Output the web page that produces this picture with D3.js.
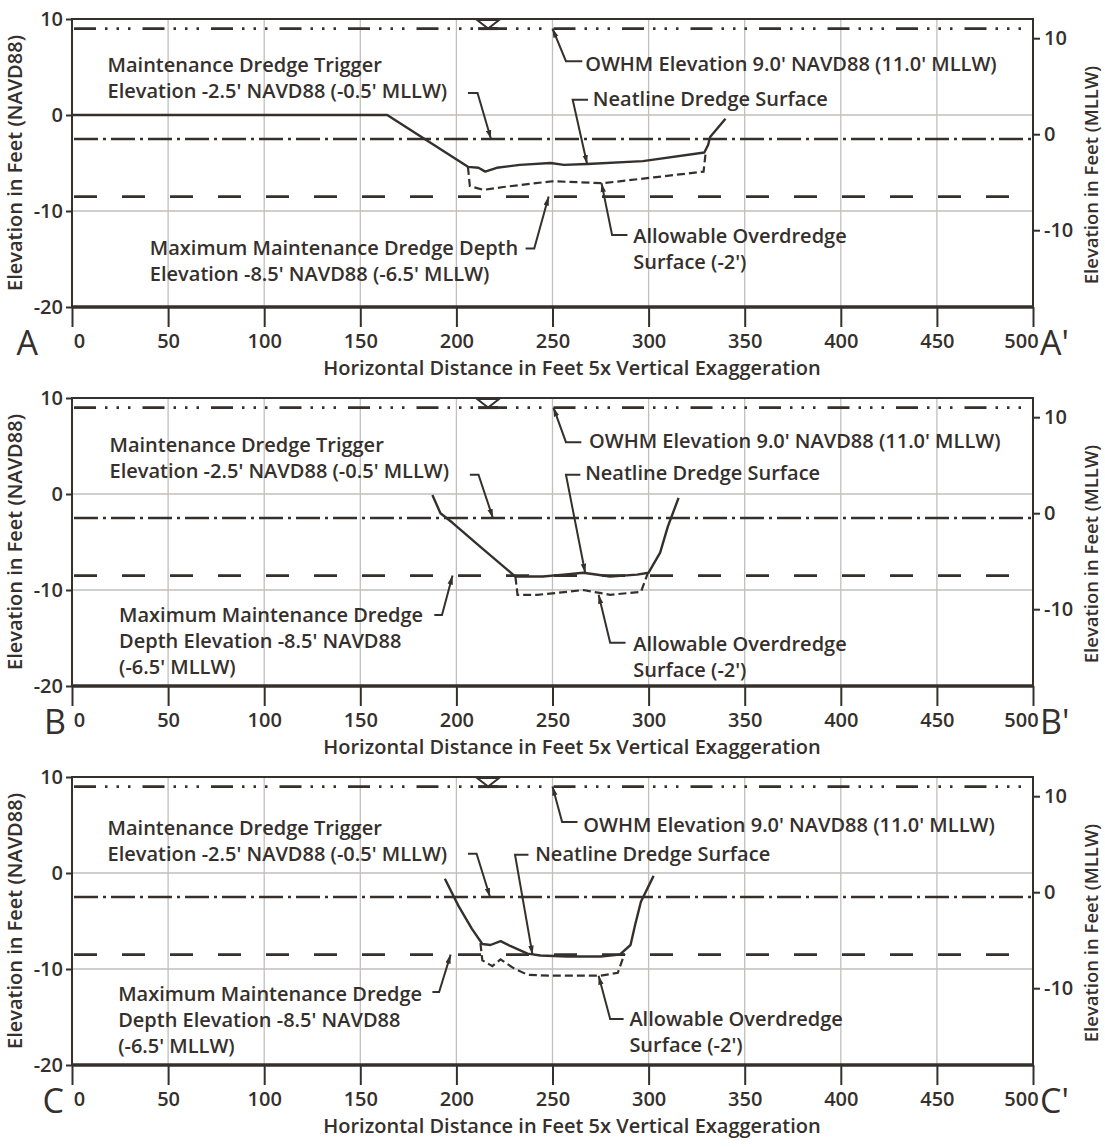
<!DOCTYPE html>
<html>
<head>
<meta charset="utf-8">
<script src="https://cdn.jsdelivr.net/npm/d3@7"></script>
<style>
  body { margin: 0; background: #fff; }
  svg text { font-family: "Open Sans", "Noto Sans", sans-serif; fill: #35302c; }
</style>
</head>
<body>
<div id="chart"></div>
<script>
// axis ticks and grid
const xTicks = [0, 50, 100, 150, 200, 250, 300, 350, 400, 450, 500];
const leftTicks = [-20, -10, 0, 10];
const rightTicks = [-10, 0, 10];
const gridX = [50, 100, 150, 200, 250, 300, 350, 400, 450];
const gridY = [-10, 0];

// reference elevations (ft NAVD88)
const owhmElev = 9.0;
const triggerElev = -2.5;
const maxDepthElev = -8.5;
const mllwOffset = 2.0;
const waterMarkX = 216.5;

const sectionNames = ['A', 'B', 'C'];

// profiles [distance ft, elevation ft NAVD88]
const neatlineA = [[0, 0], [164, 0], [206, -5.4], [211.5, -5.5], [215, -5.9], [221, -5.5], [233, -5.2],
  [249, -5.0], [256, -5.2], [268, -5.1], [297, -4.8], [329, -3.9], [331, -3.1], [332, -2.3], [340, -0.4]];
const overdredgeA = [[206, -5.4], [207, -7.4], [214, -7.8], [224.5, -7.5], [250, -6.9], [276.5, -7.1],
  [302.6, -6.5], [328.6, -5.9], [329.7, -3.9]];

const neatlineB = [[187.5, -0.1], [191.7, -2.0], [198, -3.0], [212.5, -5.5], [230.7, -8.6], [245, -8.6],
  [255.7, -8.4], [266, -8.2], [280, -8.6], [294, -8.4], [300, -8.2], [306, -6.1], [310, -3.4], [315.6, -0.4]];
const overdredgeB = [[230.7, -8.6], [231.8, -10.5], [242, -10.5], [252.6, -10.3], [266, -10.0], [280, -10.5],
  [296, -10.2], [299.5, -8.3]];

const neatlineC = [[194, -0.6], [201, -3.4], [208, -5.8], [213.5, -7.4], [217.7, -7.5], [223, -7.1], [228, -7.6],
  [237, -8.4], [243.75, -8.6], [257.8, -8.7], [275, -8.7], [285, -8.5], [290.6, -7.5], [293, -5.4], [296, -3.0],
  [302.6, -0.3]];
const overdredgeC = [[212.5, -7.3], [213.5, -9.1], [218.7, -9.7], [223, -9.0], [229.7, -9.9], [237, -10.6],
  [249, -10.7], [275, -10.7], [284, -10.4], [287.5, -8.4]];

// annotation text
const triggerText = ["Maintenance Dredge Trigger", "Elevation -2.5' NAVD88 (-0.5' MLLW)"];
const owhmText = ["OWHM Elevation 9.0' NAVD88 (11.0' MLLW)"];
const neatText = ["Neatline Dredge Surface"];
const depthTextA = ["Maximum Maintenance Dredge Depth", "Elevation -8.5' NAVD88 (-6.5' MLLW)"];
const depthTextBC = ["Maximum Maintenance Dredge", "Depth Elevation -8.5' NAVD88", "(-6.5' MLLW)"];
const overText = ["Allowable Overdredge", "Surface (-2')"];

// annotations: text anchor and leader (first point = arrow tip), in data units
const notesA = [
  { text: triggerText, at: [18.5, 4.5], leader: [[218, -2.5], [211, 2.3], [206, 2.3]] },
  { text: owhmText, at: [267, 4.6], leader: [[250, 9], [257, 5.6], [265.5, 5.6]] },
  { text: neatText, at: [271, 0.9], leader: [[268, -5.1], [260.5, 1.6], [268.5, 1.6]] },
  { text: depthTextA, at: [40.5, -14.6], leader: [[248, -8.5], [240.5, -13.9], [236, -13.9]] },
  { text: overText, at: [292, -13.3], leader: [[275.5, -7.1], [281, -12.5], [289, -12.5]] }
];
const notesB = [
  { text: triggerText, at: [19.5, 4.4], leader: [[219, -2.5], [211.5, 2.0], [207, 2.0]] },
  { text: owhmText, at: [269, 4.8], leader: [[250.5, 9], [257, 5.4], [265, 5.4]] },
  { text: neatText, at: [267, 1.45], leader: [[267, -8.2], [257, 2.0], [264.5, 2.0]] },
  { text: depthTextBC, at: [24.5, -13.3], leader: [[198, -8.5], [192.5, -12.6], [188.5, -12.6]] },
  { text: overText, at: [292, -16.4], leader: [[274, -10.5], [280, -15.5], [288, -15.5]] }
];
const notesC = [
  { text: triggerText, at: [18.5, 4.0], leader: [[217.5, -2.5], [210.5, 2.0], [206, 2.0]] },
  { text: owhmText, at: [266, 4.3], leader: [[250, 9], [255, 5.3], [263, 5.3]] },
  { text: neatText, at: [241, 1.2], leader: [[239.6, -8.5], [230.5, 1.9], [237.5, 1.9]] },
  { text: depthTextBC, at: [24, -13.3], leader: [[197, -8.5], [191, -12.4], [187.5, -12.4]] },
  { text: overText, at: [290, -15.9], leader: [[274, -10.7], [280, -15.2], [287, -15.2]] }
];

const profiles = [[neatlineA, overdredgeA], [neatlineB, overdredgeB], [neatlineC, overdredgeC]];
const notes = [notesA, notesB, notesC];

// layout
const W = 1105, H = 1147;
const left = 72, right = 1033;
const tops = [19, 398, 777];
const letterEnd = [38, 66, 64];
const plotH = 288;
const ink = '#35302c';
const fs = 20;

const svg = d3.select('#chart').append('svg')
  .attr('width', W)
  .attr('height', H);

const defs = svg.append('defs');
defs.append('marker')
  .attr('id', 'arrow')
  .attr('viewBox', '0 0 10 6')
  .attr('refX', 10).attr('refY', 3)
  .attr('markerWidth', 9).attr('markerHeight', 6)
  .attr('markerUnits', 'userSpaceOnUse')
  .attr('orient', 'auto-start-reverse')
  .append('path')
  .attr('d', 'M0,0 L10,3 L0,6 Z')
  .attr('fill', ink);

const x = d3.scaleLinear().domain([0, 500]).range([left, right]);
const plain = d => String(d);

sectionNames.forEach((name, i) => {
  const top = tops[i];
  const y = d3.scaleLinear().domain([-20, 10]).range([top + plotH, top]);
  const yR = d3.scaleLinear().domain([-20 + mllwOffset, 10 + mllwOffset]).range([top + plotH, top]);
  const g = svg.append('g');

  // grid
  g.selectAll('.gx').data(gridX).enter().append('line')
    .attr('x1', d => x(d)).attr('x2', d => x(d))
    .attr('y1', top).attr('y2', top + plotH)
    .attr('stroke', '#c2bfbc').attr('stroke-width', 1.3);
  g.selectAll('.gy').data(gridY).enter().append('line')
    .attr('x1', left).attr('x2', right)
    .attr('y1', d => y(d)).attr('y2', d => y(d))
    .attr('stroke', '#c2bfbc').attr('stroke-width', 1.3);

  // axes
  const axL = g.append('g')
    .attr('transform', `translate(${left},0)`)
    .call(d3.axisLeft(y).tickValues(leftTicks).tickFormat(plain).tickSize(6).tickPadding(3));
  const axR = g.append('g')
    .attr('transform', `translate(${right},0)`)
    .call(d3.axisRight(yR).tickValues(rightTicks).tickFormat(plain).tickSize(7).tickPadding(4));
  const axB = g.append('g')
    .attr('transform', `translate(0,${top + plotH})`)
    .call(d3.axisBottom(x).tickValues(xTicks).tickFormat(plain).tickSize(20).tickPadding(7));
  [axL, axR, axB].forEach(a => {
    a.select('.domain').remove();
    a.selectAll('line').attr('stroke', ink).attr('stroke-width', 2);
    a.selectAll('text').attr('font-size', 20).attr('font-weight', 600).attr('fill', ink);
  });
  axB.selectAll('.tick text')
    .attr('dx', d => d === 0 ? 7 : d === 500 ? -12 : 0);

  // frame
  g.append('rect')
    .attr('x', left).attr('y', top)
    .attr('width', right - left).attr('height', plotH)
    .attr('fill', 'none').attr('stroke', ink).attr('stroke-width', 2);
  g.append('line')
    .attr('x1', left).attr('x2', right)
    .attr('y1', top + plotH).attr('y2', top + plotH)
    .attr('stroke', ink).attr('stroke-width', 3.5);

  // reference levels
  const level = (elev, dash, w) => g.append('line')
    .attr('x1', left + 2).attr('x2', right - 1)
    .attr('y1', y(elev)).attr('y2', y(elev))
    .attr('stroke', ink).attr('stroke-width', w)
    .attr('stroke-dasharray', dash);
  level(owhmElev, '22,9,2.5,9,2.5,9,2.5,12', 2.8);
  level(triggerElev, '24,5,3,5', 2.3);
  level(maxDepthElev, '23,25', 2.6);

  // water level mark
  const wx = x(waterMarkX);
  g.append('path')
    .attr('d', `M${wx - 11},${y(10) + 1} L${wx + 11},${y(10) + 1} L${wx},${y(owhmElev)} Z`)
    .attr('fill', '#fff').attr('stroke', ink).attr('stroke-width', 2);
  g.append('line')
    .attr('x1', wx - 10).attr('x2', wx + 10)
    .attr('y1', y(owhmElev)).attr('y2', y(owhmElev))
    .attr('stroke', ink).attr('stroke-width', 3);

  // profiles
  const line = d3.line().x(d => x(d[0])).y(d => y(d[1]));
  g.append('path')
    .datum(profiles[i][1])
    .attr('d', line)
    .attr('fill', 'none').attr('stroke', ink)
    .attr('stroke-width', 2.2).attr('stroke-dasharray', '8,4');
  g.append('path')
    .datum(profiles[i][0])
    .attr('d', line)
    .attr('fill', 'none').attr('stroke', ink)
    .attr('stroke-width', 2.4).attr('stroke-linejoin', 'round');

  // annotations
  notes[i].forEach(n => {
    g.append('path')
      .datum(n.leader)
      .attr('d', line)
      .attr('fill', 'none').attr('stroke', ink).attr('stroke-width', 2)
      .attr('marker-start', 'url(#arrow)');
    const t = g.append('text')
      .attr('x', x(n.at[0])).attr('y', y(n.at[1]))
      .attr('font-size', fs).attr('font-weight', 600);
    n.text.forEach((s, k) => {
      t.append('tspan').attr('x', x(n.at[0])).attr('dy', k === 0 ? 0 : 26).text(s);
    });
  });

  // axis titles
  g.append('text')
    .attr('transform', `translate(22,${top + plotH / 2}) rotate(-90)`)
    .attr('text-anchor', 'middle')
    .attr('font-size', 20).attr('font-weight', 600)
    .text('Elevation in Feet (NAVD88)');
  g.append('text')
    .attr('transform', `translate(1098,${top + plotH / 2 + 12}) rotate(-90)`)
    .attr('text-anchor', 'middle')
    .attr('font-size', 18.5).attr('font-weight', 600)
    .text('Elevation in Feet (MLLW)');
  g.append('text')
    .attr('x', 572).attr('y', top + plotH + 68)
    .attr('text-anchor', 'middle')
    .attr('font-size', 20).attr('font-weight', 600)
    .text('Horizontal Distance in Feet  5x Vertical Exaggeration');

  // section letters
  g.append('text')
    .attr('x', letterEnd[i]).attr('y', top + plotH + 48)
    .attr('text-anchor', 'end')
    .attr('font-size', 34)
    .text(name);
  g.append('text')
    .attr('x', 1040).attr('y', top + plotH + 48)
    .attr('font-size', 34)
    .text(name + "'");
});
</script>
</body>
</html>
